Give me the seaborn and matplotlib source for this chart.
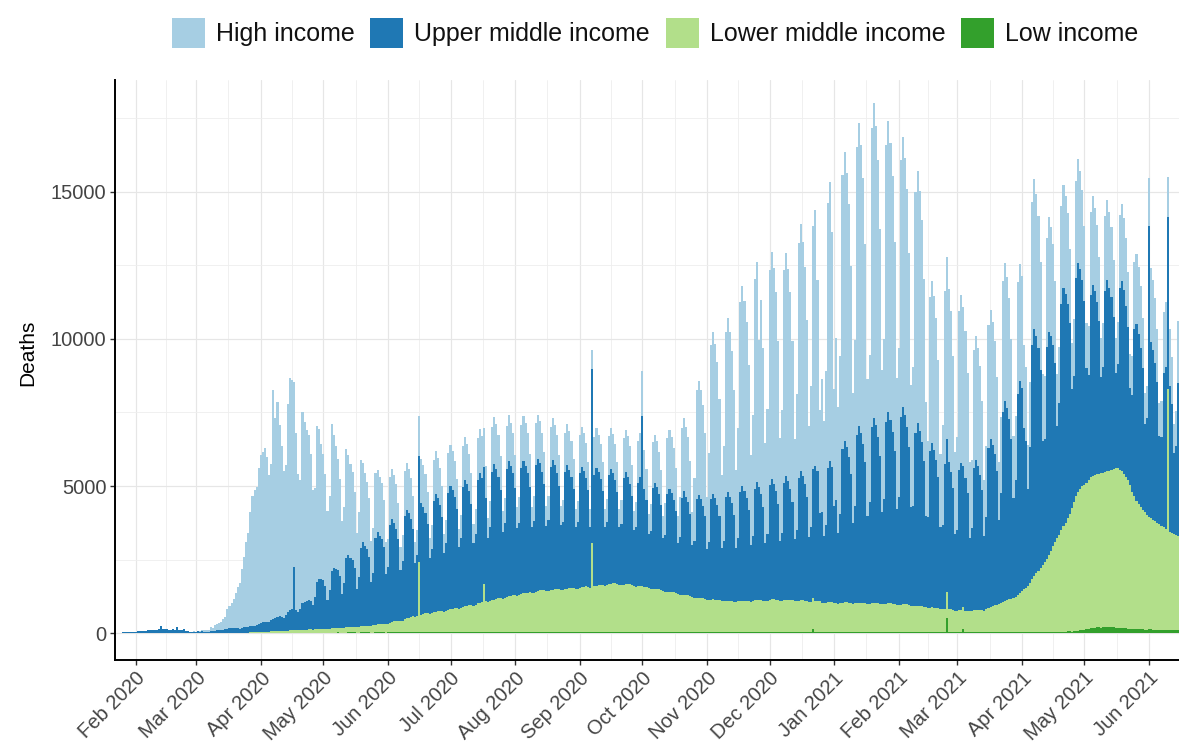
import numpy as np
import pandas as pd
import matplotlib
matplotlib.use("Agg")
import matplotlib.pyplot as plt
import matplotlib.dates as mdates
from matplotlib.ticker import FixedLocator, FuncFormatter
import seaborn as sns

# ---------------------------------------------------------------------------
# Daily COVID-19 deaths by World Bank income group.
# First row: Wed 22 Jan - Sun 26 Jan 2020; then one row per Monday-Sunday week;
# last row: Mon 14 - Tue 15 Jun 2021.
# ---------------------------------------------------------------------------
start_date = "2020-01-22"
income_groups = ["High income", "Upper middle income", "Lower middle income", "Low income"]
group_colors = ["#a6cee3", "#1f78b4", "#b2df8a", "#33a02c"]
y_ticks = [0, 5000, 10000, 15000]

high_income = [
    [0, 0, 0, 0, 0],
    [0, 0, 0, 0, 0, 0, 0],
    [0, 0, 0, 0, 0, 0, 0],
    [0, 0, 0, 0, 0, 0, 1],
    [0, 0, 0, 0, 2, 1, 2],
    [2, 4, 3, 4, 6, 7, 6],
    [20, 30, 35, 45, 55, 60, 130],
    [110, 190, 220, 260, 280, 370, 430],
    [650, 750, 850, 1000, 1200, 1400, 1550],
    [2000, 2400, 2900, 3200, 3900, 4400, 4600],
    [4700, 5300, 5700, 5800, 5900, 5600, 5000],
    [5300, 7800, 6800, 7300, 6500, 5800, 5000],
    [5100, 7100, 7900, 7800, 6300, 6000, 4700],
    [4400, 6500, 6100, 5800, 5600, 5000, 3900],
    [3700, 5300, 5100, 4600, 4300, 3800, 3000],
    [3200, 5000, 4500, 4200, 3800, 3300, 2500],
    [2600, 3700, 3400, 3200, 3000, 2600, 1900],
    [2200, 3000, 2700, 2500, 2300, 2000, 1400],
    [1500, 2200, 2100, 2000, 1900, 1600, 1100],
    [940, 1620, 1700, 1620, 1500, 1220, 770],
    [880, 1520, 1600, 1520, 1410, 1150, 720],
    [830, 1350, 1500, 1430, 1320, 1080, 680],
    [800, 1380, 1450, 1380, 1280, 1040, 650],
    [770, 1330, 1400, 1330, 1230, 1010, 630],
    [800, 1380, 1450, 1380, 1280, 1040, 650],
    [830, 1430, 1500, 1430, 1320, 1080, 680],
    [880, 1520, 1600, 1520, 1410, 1150, 720],
    [850, 1470, 1550, 1470, 1360, 1120, 700],
    [860, 1480, 1540, 1460, 1370, 1110, 690],
    [830, 1430, 1500, 1430, 1320, 1080, 680],
    [800, 1380, 1450, 1380, 1280, 1040, 650],
    [770, 1330, 1400, 1330, 1230, 1010, 630],
    [740, 1280, 1350, 1280, 1190, 970, 610],
    [620, 1280, 1350, 1280, 1190, 970, 610],
    [770, 1330, 1400, 1330, 1230, 1010, 630],
    [800, 1380, 1450, 1380, 1280, 1040, 650],
    [830, 1430, 1500, 1520, 1320, 1080, 680],
    [910, 1570, 1650, 1570, 1450, 1190, 740],
    [1100, 1900, 2000, 1900, 1760, 1440, 900],
    [1380, 2380, 2500, 2380, 2200, 1800, 1130],
    [2150, 3710, 3900, 3710, 3430, 2810, 1760],
    [3030, 5230, 5500, 5230, 4840, 3960, 2480],
    [3250, 5610, 5900, 5610, 5190, 4250, 2660],
    [3740, 6460, 6800, 6460, 5980, 4900, 3060],
    [4130, 7130, 7500, 5000, 6600, 5400, 3380],
    [4240, 7320, 7700, 7320, 6780, 5540, 3470],
    [4180, 7220, 7600, 7220, 6690, 5470, 3420],
    [4620, 7980, 8400, 7980, 7390, 6050, 3780],
    [4790, 8270, 8700, 6500, 3500, 4500, 3900],
    [5230, 9030, 9500, 8000, 4000, 5500, 4280],
    [5390, 9310, 9800, 9310, 8620, 7060, 4410],
    [5670, 9790, 10300, 9790, 9060, 7420, 4640],
    [5000, 10170, 10700, 10170, 9420, 7700, 4820],
    [5450, 9410, 9900, 9410, 8710, 7130, 4460],
    [5060, 8740, 9200, 8740, 8100, 6620, 4140],
    [4730, 8170, 8600, 8170, 7570, 6190, 3870],
    [2600, 5230, 5500, 5230, 4840, 3960, 2480],
    [3410, 5890, 6200, 5890, 5460, 4460, 2790],
    [3140, 5420, 5700, 5420, 5020, 4100, 2570],
    [2310, 3990, 4200, 3990, 3700, 3020, 1890],
    [2420, 4180, 4400, 4180, 3870, 3170, 1980],
    [2590, 4470, 4700, 4470, 4140, 3380, 2120],
    [2200, 3800, 4000, 3800, 2800, 2500, 1500],
    [2200, 4850, 5100, 4850, 4490, 3670, 2300],
    [2150, 3710, 3900, 3710, 3430, 2810, 1760],
    [1930, 3330, 3500, 3330, 3080, 2520, 1580],
    [1950, 3300, 3520, 3340, 3060, 2540, 1560],
    [1650, 2850, 3000, 2850, 2640, 2160, 1350],
    [1490, 2570, 2700, 2570, 2380, 1940, 1220],
    [1430, 2470, 2600, 2470, 2290, 1870, 1170],
    [1320, 2280, 2400, 2280, 2110, 1730, 1080],
    [1100, 1640, 2500, 2380, 2200, 1800, 1130],
    [1210, 2090, 2200, 1360, 1940, 1580, 990],
    [1200, 2100],
]

upper_middle_income = [
    [17, 8, 16, 15, 24],
    [26, 26, 38, 43, 46, 45, 57],
    [64, 66, 73, 73, 86, 89, 97],
    [108, 97, 146, 245, 121, 143, 142],
    [105, 98, 136, 114, 190, 109, 97],
    [150, 71, 52, 29, 44, 47, 35],
    [54, 42, 53, 46, 46, 49, 76],
    [65, 71, 85, 86, 92, 110, 123],
    [150, 155, 160, 165, 160, 150, 145],
    [170, 190, 200, 200, 210, 220, 230],
    [250, 280, 310, 320, 330, 340, 330],
    [380, 420, 450, 480, 500, 480, 450],
    [550, 620, 680, 720, 2150, 700, 620],
    [700, 900, 950, 980, 1000, 950, 850],
    [1100, 1600, 1700, 1700, 1650, 1450, 1000],
    [1300, 1950, 2050, 2000, 1950, 1750, 1150],
    [1500, 2350, 2450, 2350, 2250, 2000, 1300],
    [1700, 2650, 2850, 2700, 2600, 2350, 1500],
    [1800, 2950, 3150, 3000, 2900, 2600, 1700],
    [1930, 3330, 3500, 3360, 3150, 2800, 1750],
    [2040, 3520, 3700, 3550, 3330, 2960, 1850],
    [2090, 3610, 3800, 3650, 3420, 3040, 1900],
    [2200, 3800, 4000, 3840, 3600, 3200, 2000],
    [2310, 3990, 4200, 4030, 3780, 3360, 2100],
    [2370, 4090, 4300, 4130, 3870, 3440, 2150],
    [2420, 4180, 4400, 4220, 3960, 3520, 2200],
    [2530, 4370, 4600, 4420, 4140, 3680, 2300],
    [2560, 4350, 4620, 4400, 4150, 3650, 2320],
    [2480, 4280, 4500, 4320, 4050, 3600, 2250],
    [2450, 4300, 4480, 4340, 4020, 3620, 2230],
    [2420, 4180, 4400, 4220, 3960, 3520, 2200],
    [2310, 3990, 4200, 4030, 3780, 3360, 2100],
    [2260, 3900, 4100, 3940, 3690, 3280, 2050],
    [5950, 3800, 4000, 3840, 3600, 3200, 2000],
    [2150, 3710, 3900, 3740, 3510, 3120, 1950],
    [2090, 3610, 3800, 3650, 3420, 3040, 1900],
    [2040, 3520, 3700, 5810, 3330, 2960, 1850],
    [1980, 3420, 3600, 3460, 3240, 2880, 1800],
    [1930, 3330, 3500, 3360, 3150, 2800, 1750],
    [1950, 3300, 3520, 3340, 3170, 2780, 1770],
    [1920, 3350, 3480, 3380, 3130, 2820, 1740],
    [1980, 3420, 3600, 3460, 3240, 2880, 1800],
    [2040, 3520, 3700, 3550, 3330, 2960, 1850],
    [2150, 3710, 3900, 3740, 3510, 3120, 1950],
    [2200, 3800, 4000, 3840, 3600, 3200, 2000],
    [2260, 3900, 4100, 3940, 3690, 3280, 2050],
    [2310, 3990, 4200, 4030, 3780, 3360, 2100],
    [2420, 4180, 4400, 4220, 3960, 3520, 2200],
    [2530, 4370, 4600, 4420, 3000, 3100, 2300],
    [2640, 4560, 4800, 4610, 3300, 3500, 2400],
    [3030, 5230, 5500, 5280, 4950, 4400, 2750],
    [3300, 5700, 6000, 5760, 5400, 4800, 3000],
    [3470, 5990, 6300, 6050, 5670, 5040, 3150],
    [3580, 6180, 6500, 6240, 5850, 5200, 3250],
    [3690, 6370, 6700, 6430, 6030, 5360, 3350],
    [3410, 5890, 6200, 5950, 5580, 4960, 3100],
    [3080, 5320, 5600, 5380, 5040, 4480, 2800],
    [2860, 4940, 5200, 4990, 4680, 4160, 2600],
    [2750, 4750, 5000, 4800, 4500, 4000, 2500],
    [2810, 4850, 5100, 4900, 4590, 4080, 2550],
    [3140, 5420, 5700, 5470, 5130, 4560, 2850],
    [3740, 6460, 6800, 6530, 6120, 5440, 3400],
    [3960, 6840, 7200, 6910, 5500, 5000, 3300],
    [4620, 7980, 8400, 8060, 7560, 6720, 4200],
    [4180, 7220, 7600, 7300, 6840, 6080, 3800],
    [4460, 7700, 8100, 7780, 7290, 6480, 4050],
    [4290, 7410, 7800, 7490, 7020, 6240, 3900],
    [3580, 6180, 6500, 6240, 5850, 5200, 3250],
    [3600, 6150, 6520, 6220, 5880, 5180, 3230],
    [3560, 6200, 6480, 6260, 5830, 5220, 3270],
    [3300, 5700, 6000, 5760, 5400, 4800, 3000],
    [3300, 9900, 6000, 5760, 5400, 4800, 3000],
    [3030, 5230, 5500, 5850, 4950, 4400, 2750],
    [3000, 5200],
]

lower_middle_income = [
    [0, 0, 0, 0, 0],
    [0, 0, 0, 0, 0, 0, 1],
    [0, 0, 0, 0, 0, 0, 0],
    [0, 0, 0, 0, 0, 0, 0],
    [0, 0, 0, 0, 0, 0, 0],
    [0, 0, 0, 0, 0, 0, 0],
    [0, 0, 0, 0, 0, 0, 0],
    [0, 0, 1, 1, 1, 2, 2],
    [2, 3, 3, 4, 5, 5, 6],
    [5, 10, 10, 15, 15, 20, 20],
    [25, 30, 35, 40, 40, 45, 45],
    [50, 55, 60, 60, 65, 65, 60],
    [70, 75, 80, 80, 85, 85, 80],
    [90, 95, 100, 100, 110, 110, 100],
    [110, 120, 125, 130, 130, 130, 120],
    [140, 150, 155, 160, 160, 160, 150],
    [170, 180, 190, 190, 200, 190, 180],
    [200, 210, 220, 230, 230, 230, 220],
    [240, 260, 270, 280, 290, 290, 280],
    [300, 330, 350, 370, 380, 390, 380],
    [400, 440, 470, 500, 520, 540, 520],
    [560, 2400, 600, 620, 640, 650, 630],
    [650, 680, 700, 710, 720, 720, 700],
    [730, 760, 780, 800, 820, 830, 800],
    [830, 860, 880, 900, 920, 930, 900],
    [940, 980, 1000, 1020, 1650, 1050, 1020],
    [1050, 1090, 1100, 1120, 1140, 1150, 1120],
    [1150, 1190, 1210, 1230, 1250, 1260, 1230],
    [1250, 1290, 1310, 1330, 1340, 1350, 1320],
    [1340, 1380, 1400, 1410, 1420, 1420, 1390],
    [1400, 1430, 1440, 1450, 1460, 1460, 1430],
    [1430, 1460, 1480, 1490, 1500, 1500, 1470],
    [1480, 1510, 1530, 1540, 1550, 1550, 1520],
    [3020, 1560, 1580, 1590, 1600, 1600, 1570],
    [1600, 1630, 1650, 1660, 1660, 1650, 1620],
    [1600, 1620, 1630, 1630, 1620, 1600, 1570],
    [1550, 1560, 1560, 1550, 1540, 1520, 1490],
    [1470, 1480, 1470, 1460, 1450, 1430, 1400],
    [1380, 1380, 1370, 1360, 1350, 1330, 1300],
    [1280, 1280, 1270, 1260, 1250, 1230, 1200],
    [1180, 1180, 1170, 1160, 1150, 1140, 1110],
    [1100, 1110, 1110, 1100, 1090, 1080, 1060],
    [1060, 1070, 1070, 1060, 1050, 1040, 1020],
    [1050, 1060, 1070, 1070, 1060, 1050, 1030],
    [1060, 1080, 1090, 1090, 1080, 1070, 1050],
    [1080, 1100, 1110, 1110, 1100, 1090, 1070],
    [1080, 1090, 1100, 1100, 1090, 1080, 1060],
    [1060, 1070, 1080, 1080, 1070, 1060, 1040],
    [1040, 1050, 1060, 1060, 1040, 1000, 980],
    [1000, 1010, 1020, 1010, 980, 990, 970],
    [990, 1000, 1010, 1010, 1000, 990, 970],
    [980, 990, 1000, 1000, 990, 980, 960],
    [960, 970, 980, 980, 970, 960, 940],
    [950, 960, 970, 970, 960, 950, 930],
    [920, 930, 940, 940, 930, 920, 900],
    [880, 890, 890, 880, 870, 860, 840],
    [830, 830, 830, 820, 810, 800, 780],
    [780, 780, 900, 770, 760, 750, 730],
    [730, 740, 740, 730, 720, 710, 700],
    [720, 740, 750, 750, 750, 740, 730],
    [780, 820, 850, 880, 900, 920, 950],
    [980, 1010, 1040, 1070, 1100, 1130, 1160],
    [1200, 1260, 1320, 1380, 1440, 1500, 1560],
    [1680, 1780, 1880, 1980, 2080, 2180, 2280],
    [2380, 2480, 2600, 2750, 2900, 3050, 3200],
    [3310, 3455, 3600, 3700, 3845, 3995, 4200],
    [4390, 4580, 4720, 4810, 4900, 4940, 4980],
    [5060, 5140, 5180, 5200, 5210, 5230, 5270],
    [5260, 5280, 5290, 5310, 5350, 5390, 5420],
    [5420, 5370, 5330, 5230, 5140, 5050, 4910],
    [4660, 4510, 4370, 4270, 4180, 4080, 3990],
    [3890, 3830, 3780, 3740, 3690, 3650, 3600],
    [3550, 3490, 3440, 8200, 3350, 3305, 3290],
    [3260, 3200],
]

low_income = [
    [0, 0, 0, 0, 0],
    [0, 0, 0, 0, 0, 0, 0],
    [0, 0, 0, 0, 0, 0, 0],
    [0, 0, 0, 0, 0, 0, 0],
    [0, 0, 0, 0, 0, 0, 0],
    [0, 0, 0, 0, 0, 0, 0],
    [0, 0, 0, 0, 0, 0, 0],
    [0, 0, 0, 0, 0, 0, 0],
    [0, 0, 0, 1, 1, 1, 1],
    [1, 1, 2, 2, 3, 3, 2],
    [3, 4, 5, 5, 6, 6, 5],
    [6, 7, 8, 8, 9, 9, 8],
    [8, 10, 11, 11, 12, 12, 10],
    [10, 12, 13, 13, 14, 14, 12],
    [12, 14, 15, 15, 16, 16, 13],
    [13, 15, 16, 17, 18, 17, 14],
    [14, 16, 18, 18, 19, 18, 15],
    [15, 18, 20, 20, 21, 20, 16],
    [16, 19, 21, 21, 22, 21, 17],
    [18, 21, 23, 23, 24, 23, 19],
    [19, 22, 24, 25, 25, 24, 20],
    [20, 24, 26, 26, 27, 26, 21],
    [21, 25, 27, 28, 28, 27, 22],
    [22, 26, 28, 29, 30, 28, 23],
    [23, 27, 30, 30, 31, 29, 24],
    [24, 28, 31, 32, 32, 30, 25],
    [25, 29, 32, 33, 34, 31, 26],
    [26, 30, 33, 34, 35, 32, 27],
    [27, 31, 34, 35, 36, 33, 28],
    [27, 31, 35, 36, 36, 33, 28],
    [26, 31, 34, 35, 36, 32, 27],
    [26, 30, 33, 34, 35, 32, 27],
    [25, 30, 33, 34, 34, 31, 26],
    [25, 29, 32, 33, 34, 31, 26],
    [24, 29, 32, 33, 33, 30, 25],
    [24, 28, 31, 32, 33, 30, 25],
    [23, 28, 31, 32, 32, 29, 24],
    [23, 27, 30, 31, 32, 29, 24],
    [22, 27, 30, 31, 31, 28, 23],
    [22, 27, 30, 30, 31, 28, 23],
    [22, 27, 30, 30, 31, 28, 23],
    [23, 28, 31, 31, 32, 29, 24],
    [23, 28, 31, 32, 32, 29, 24],
    [24, 29, 32, 32, 33, 30, 25],
    [24, 29, 32, 33, 33, 30, 25],
    [25, 30, 33, 33, 34, 31, 26],
    [25, 30, 33, 34, 34, 31, 26],
    [26, 31, 34, 34, 35, 32, 27],
    [26, 150, 34, 35, 35, 32, 27],
    [27, 32, 35, 35, 36, 33, 28],
    [28, 33, 36, 36, 37, 34, 29],
    [29, 34, 37, 37, 38, 35, 30],
    [30, 35, 38, 38, 39, 36, 31],
    [30, 35, 38, 39, 40, 36, 31],
    [31, 36, 39, 39, 40, 37, 32],
    [31, 36, 39, 40, 40, 37, 32],
    [32, 37, 40, 40, 41, 38, 33],
    [32, 37, 500, 41, 41, 38, 33],
    [33, 38, 41, 150, 42, 39, 34],
    [34, 39, 42, 42, 43, 40, 35],
    [35, 40, 43, 43, 44, 41, 36],
    [35, 40, 44, 44, 45, 42, 36],
    [36, 41, 45, 45, 46, 42, 37],
    [36, 41, 45, 46, 46, 43, 37],
    [37, 42, 46, 46, 47, 43, 38],
    [40, 45, 50, 50, 55, 55, 50],
    [60, 70, 80, 90, 100, 110, 120],
    [140, 160, 170, 180, 190, 190, 180],
    [190, 200, 210, 210, 200, 190, 180],
    [180, 180, 170, 170, 160, 150, 140],
    [140, 140, 130, 130, 120, 120, 110],
    [110, 120, 120, 110, 110, 100, 100],
    [100, 110, 110, 100, 100, 95, 90],
    [90, 100],
]


def flatten(rows):
    return np.concatenate([np.asarray(r, dtype=float) for r in rows])


series = {
    "High income": flatten(high_income),
    "Upper middle income": flatten(upper_middle_income),
    "Lower middle income": flatten(lower_middle_income),
    "Low income": flatten(low_income),
}
n_days = len(series["High income"])
assert all(len(v) == n_days for v in series.values()), [len(v) for v in series.values()]
dates = pd.date_range(start_date, periods=n_days, freq="D")

wide = pd.DataFrame(series)
wide["date"] = dates
long = wide.melt(id_vars="date", var_name="group", value_name="deaths")

# ---------------------------------------------------------------------------
sns.set_theme(style="white")
plt.rcParams["font.family"] = ["Liberation Sans", "DejaVu Sans"]

W, H = 1179, 747
fig = plt.figure(figsize=(W / 100, H / 100), dpi=100)
ax = fig.add_axes([115 / W, (H - 660) / H, (W - 115) / W, 580 / H])

sns.histplot(
    data=long, x="date", weights="deaths", hue="group",
    hue_order=income_groups, palette=dict(zip(income_groups, group_colors)),
    multiple="stack", discrete=True, shrink=1.0, alpha=1,
    linewidth=0, antialiased=False, ax=ax,
)

# axis ranges
x0 = mdates.date2num(pd.Timestamp(start_date)) + 0.07
ax.set_xlim(x0, x0 + (W - 115) / 2.085)
ax.set_ylim(-918, 18809)

# date ticks: month starts, minor grid half-way between them
ax.xaxis.set_major_locator(mdates.MonthLocator())
ax.xaxis.set_major_formatter(mdates.DateFormatter("%b %Y"))
month_starts = mdates.date2num(pd.date_range("2019-12-01", "2021-08-01", freq="MS"))
ax.xaxis.set_minor_locator(FixedLocator((month_starts[:-1] + month_starts[1:]) / 2))

ax.yaxis.set_major_locator(FixedLocator(y_ticks))
ax.yaxis.set_minor_locator(FixedLocator([2500, 7500, 12500, 17500]))
ax.yaxis.set_major_formatter(FuncFormatter(lambda v, p: f"{int(v)}"))

ax.set_axisbelow(True)
ax.grid(which="major", color="#e6e6e6", linewidth=0.85)
ax.grid(which="minor", color="#eeeeee", linewidth=0.6)

for side in ("top", "right"):
    ax.spines[side].set_visible(False)
for side in ("left", "bottom"):
    ax.spines[side].set_color("black")
    ax.spines[side].set_linewidth(1.4)

ax.tick_params(which="major", length=3.6, width=1.0, color="#333333",
               labelsize=14.5, labelcolor="#444444", pad=2.5)
ax.tick_params(which="minor", length=0)
ax.tick_params(axis="x", bottom=True, labelrotation=45)
ax.tick_params(axis="y", left=True)
for lab in ax.get_xticklabels():
    lab.set_ha("right")
    lab.set_va("top")
    lab.set_rotation_mode("anchor")

ax.set_xlabel("")
ax.set_ylabel("Deaths", fontsize=15, color="black")
ax.yaxis.set_label_coords((37 - 115) / (W - 115), (660 - 353) / 580)

sns.move_legend(
    ax, "center", bbox_to_anchor=(655 / W, 1 - 33 / H), bbox_transform=fig.transFigure,
    ncol=4, title=None, frameon=False, fontsize=18, labelcolor="#111111",
    handlelength=1.32, handleheight=1.53, handletextpad=0.44, columnspacing=0.62,
)

fig.savefig("out.png", dpi=100)
